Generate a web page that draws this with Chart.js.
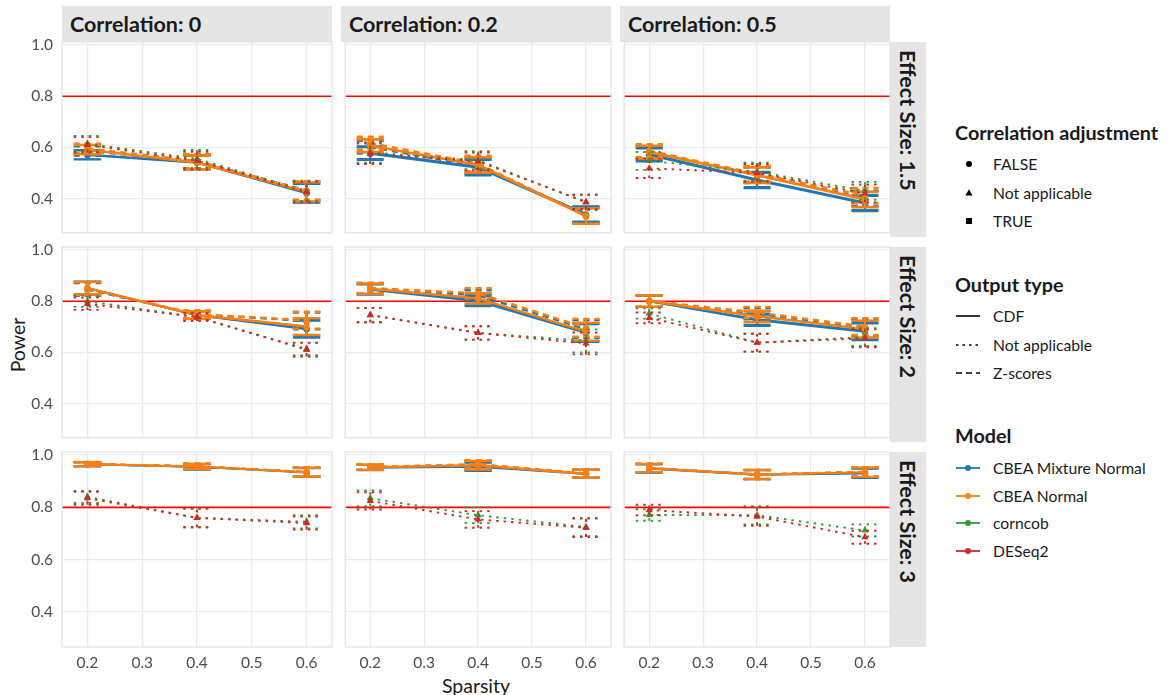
<!DOCTYPE html>
<html>
<head>
<meta charset="utf-8">
<script src="https://cdn.jsdelivr.net/npm/chart.js@4.4.1/dist/chart.umd.min.js"></script>
<style>
  html, body { margin: 0; padding: 0; background: #ffffff; }
  #fig { position: relative; width: 1171px; height: 695px; font-family: Lato, "Open Sans", sans-serif; color: #1a1a1a; overflow: hidden; }
  .strip-top { position: absolute; background: #e5e5e5; font-weight: bold; font-size: 21.5px; line-height: 36px; padding-left: 8px; box-sizing: border-box; white-space: nowrap; }
  .strip-right { position: absolute; background: #e5e5e5; font-weight: bold; font-size: 21.5px; writing-mode: vertical-rl; line-height: 36px; padding-top: 8px; box-sizing: border-box; white-space: nowrap; }
  .axis-title { position: absolute; font-size: 19.5px; white-space: nowrap; }
  .lg-title { position: absolute; left: 955px; font-weight: bold; font-size: 19.8px; transform: translateY(-50%); white-space: nowrap; }
  .lg-item { position: absolute; left: 993px; font-size: 15.7px; transform: translateY(-50%); white-space: nowrap; }
  .lg-key { position: absolute; left: 954px; width: 28px; height: 16px; transform: translateY(-50%); }
  canvas { position: absolute; }
</style>
</head>
<body>
<div id="fig"></div>
<script>
// Facet levels and axis ticks
const sparsity = [0.2, 0.4, 0.6];
const sparsityTicks = [0.2, 0.3, 0.4, 0.5, 0.6];
const powerTicks = [0.4, 0.6, 0.8, 1.0];
const correlationLevels = ['0', '0.2', '0.5'];
const effectSizes = ['1.5', '2', '3'];
const powerTarget = 0.8;

// Power per panel (rows: effect size 1.5, 2, 3; columns: correlation 0, 0.2, 0.5)
const mixCdfFalse = [
  [0.570, 0.540, 0.420], [0.575, 0.520, 0.335], [0.570, 0.470, 0.380],
  [0.850, 0.745, 0.690], [0.845, 0.800, 0.675], [0.800, 0.725, 0.680],
  [0.965, 0.955, 0.933], [0.952, 0.955, 0.928], [0.948, 0.925, 0.930]
];
const mixCdfTrue = [
  [0.572, 0.542, 0.422], [0.580, 0.525, 0.340], [0.575, 0.475, 0.385],
  [0.852, 0.745, 0.695], [0.848, 0.805, 0.680], [0.800, 0.730, 0.685],
  [0.965, 0.955, 0.935], [0.953, 0.957, 0.930], [0.950, 0.927, 0.932]
];
const mixZFalse = [
  [0.585, 0.545, 0.430], [0.600, 0.525, 0.335], [0.580, 0.490, 0.400],
  [0.845, 0.748, 0.722], [0.850, 0.822, 0.690], [0.800, 0.750, 0.695],
  [0.965, 0.957, 0.935], [0.953, 0.960, 0.929], [0.950, 0.925, 0.935]
];
const mixZTrue = [
  [0.587, 0.547, 0.432], [0.605, 0.530, 0.338], [0.582, 0.492, 0.402],
  [0.847, 0.748, 0.725], [0.852, 0.825, 0.692], [0.802, 0.752, 0.698],
  [0.966, 0.957, 0.936], [0.954, 0.962, 0.930], [0.951, 0.926, 0.936]
];
const normCdfFalse = [
  [0.590, 0.540, 0.425], [0.605, 0.530, 0.330], [0.580, 0.490, 0.395],
  [0.850, 0.745, 0.700], [0.848, 0.810, 0.680], [0.800, 0.740, 0.690],
  [0.965, 0.956, 0.934], [0.953, 0.960, 0.928], [0.950, 0.925, 0.934]
];
const normCdfTrue = [
  [0.592, 0.542, 0.427], [0.608, 0.533, 0.333], [0.583, 0.493, 0.398],
  [0.852, 0.747, 0.702], [0.850, 0.812, 0.682], [0.802, 0.742, 0.692],
  [0.966, 0.957, 0.935], [0.954, 0.962, 0.929], [0.951, 0.926, 0.935]
];
const normZFalse = [
  [0.595, 0.545, 0.430], [0.615, 0.535, 0.330], [0.585, 0.495, 0.410],
  [0.848, 0.748, 0.725], [0.850, 0.830, 0.695], [0.800, 0.755, 0.700],
  [0.966, 0.957, 0.935], [0.955, 0.965, 0.930], [0.951, 0.926, 0.936]
];
const normZTrue = [
  [0.597, 0.547, 0.432], [0.618, 0.538, 0.333], [0.588, 0.498, 0.412],
  [0.850, 0.750, 0.727], [0.852, 0.832, 0.697], [0.802, 0.757, 0.702],
  [0.967, 0.958, 0.936], [0.956, 0.966, 0.931], [0.952, 0.927, 0.937]
];
const corncob = [
  [0.615, 0.555, 0.430], [0.580, 0.550, 0.385], [0.547, 0.505, 0.430],
  [0.800, 0.738, 0.610], [0.746, 0.676, 0.645], [0.752, 0.638, 0.660],
  [0.840, 0.760, 0.745], [0.835, 0.770, 0.725], [0.771, 0.770, 0.712]
];
const deseq2 = [
  [0.610, 0.548, 0.425], [0.575, 0.545, 0.387], [0.518, 0.500, 0.420],
  [0.790, 0.738, 0.613], [0.746, 0.676, 0.635], [0.735, 0.638, 0.655],
  [0.835, 0.760, 0.740], [0.825, 0.754, 0.722], [0.790, 0.765, 0.686]
];

// Half-widths of the interval drawn around each estimate
const cbeaErr = [
  [0.018, 0.027, 0.037], [0.025, 0.030, 0.030], [0.025, 0.030, 0.030],
  [0.025, 0.015, 0.033], [0.020, 0.020, 0.035], [0.022, 0.022, 0.033],
  [0.008, 0.010, 0.017], [0.010, 0.016, 0.015], [0.016, 0.017, 0.018]
];
const corncobErr = [
  [0.030, 0.035, 0.040], [0.040, 0.035, 0.030], [0.035, 0.035, 0.035],
  [0.022, 0.015, 0.027], [0.028, 0.026, 0.045], [0.020, 0.035, 0.035],
  [0.023, 0.036, 0.025], [0.030, 0.030, 0.035], [0.022, 0.035, 0.023]
];
const deseq2Err = [
  [0.030, 0.035, 0.040], [0.040, 0.035, 0.028], [0.038, 0.035, 0.035],
  [0.024, 0.015, 0.025], [0.028, 0.026, 0.043], [0.021, 0.035, 0.035],
  [0.025, 0.036, 0.025], [0.033, 0.032, 0.035], [0.020, 0.035, 0.025]
];

const models = ['CBEA Mixture Normal', 'CBEA Normal', 'corncob', 'DESeq2'];
const outputTypes = ['CDF', 'Not applicable', 'Z-scores'];
const adjustments = ['FALSE', 'Not applicable', 'TRUE'];

// Styling
const modelColors = { 'CBEA Mixture Normal': '#1f77b4', 'CBEA Normal': '#ff7f0e', 'corncob': '#2ca02c', 'DESeq2': '#d62728' };
const outputDash = { 'CDF': [], 'Not applicable': [2.5, 5], 'Z-scores': [6, 5] };
const adjShape = { 'FALSE': 'circle', 'Not applicable': 'triangle', 'TRUE': 'rect' };

const series = [
  { model: 'CBEA Mixture Normal', output: 'CDF', adj: 'FALSE', values: mixCdfFalse, err: cbeaErr },
  { model: 'CBEA Mixture Normal', output: 'CDF', adj: 'TRUE', values: mixCdfTrue, err: cbeaErr },
  { model: 'CBEA Mixture Normal', output: 'Z-scores', adj: 'FALSE', values: mixZFalse, err: cbeaErr },
  { model: 'CBEA Mixture Normal', output: 'Z-scores', adj: 'TRUE', values: mixZTrue, err: cbeaErr },
  { model: 'CBEA Normal', output: 'CDF', adj: 'FALSE', values: normCdfFalse, err: cbeaErr },
  { model: 'CBEA Normal', output: 'CDF', adj: 'TRUE', values: normCdfTrue, err: cbeaErr },
  { model: 'CBEA Normal', output: 'Z-scores', adj: 'FALSE', values: normZFalse, err: cbeaErr },
  { model: 'CBEA Normal', output: 'Z-scores', adj: 'TRUE', values: normZTrue, err: cbeaErr },
  { model: 'corncob', output: 'Not applicable', adj: 'Not applicable', values: corncob, err: corncobErr },
  { model: 'DESeq2', output: 'Not applicable', adj: 'Not applicable', values: deseq2, err: deseq2Err }
];

// Panel geometry
const colLeft = [62, 341, 620];
const rowTop = [42, 247, 452];
const panelW = 270, panelH = 195;
const xMin = 0.1536, xMax = 0.6464;
const yMin = 0.266, yMax = 1.012;
const capHalfWidth = 0.025;
const lineW = 1.9;
const gridColor = '#ebebeb';
const tickFont = { family: 'Lato', size: 15.5 };
const tickColor = '#4d4d4d';

const fig = document.getElementById('fig');

function addDiv(cls, text, style) {
  const d = document.createElement('div');
  d.className = cls;
  d.textContent = text;
  Object.assign(d.style, style);
  fig.appendChild(d);
  return d;
}

// Facet strips
correlationLevels.forEach((c, i) => {
  addDiv('strip-top', 'Correlation: ' + c, { left: colLeft[i] + 'px', top: '6px', width: panelW + 'px', height: '36px' });
});
effectSizes.forEach((e, i) => {
  addDiv('strip-right', 'Effect Size: ' + e, { left: (colLeft[2] + panelW) + 'px', top: rowTop[i] + 'px', width: '36px', height: panelH + 'px' });
});

// Axis titles
addDiv('axis-title', 'Sparsity', { left: '476px', top: '685px', transform: 'translate(-50%, -50%)' });
addDiv('axis-title', 'Power', { left: '17px', top: '345px', transform: 'translate(-50%, -50%) rotate(-90deg)' });

// Interval bars drawn right after each dataset
const errorBarPlugin = {
  id: 'errorBars',
  afterDatasetDraw(chart, args) {
    const ds = chart.data.datasets[args.index];
    if (!ds.errors) return;
    const xs = chart.scales.x, ys = chart.scales.y, ctx = chart.ctx;
    ctx.save();
    ctx.strokeStyle = ds.borderColor;
    ctx.lineWidth = ds.borderWidth;
    ctx.setLineDash(ds.borderDash || []);
    ds.data.forEach((pt, i) => {
      const e = ds.errors[i];
      const px = xs.getPixelForValue(pt.x);
      const x0 = xs.getPixelForValue(pt.x - capHalfWidth);
      const x1 = xs.getPixelForValue(pt.x + capHalfWidth);
      const yl = ys.getPixelForValue(pt.y - e);
      const yh = ys.getPixelForValue(pt.y + e);
      ctx.beginPath();
      ctx.moveTo(px, yl); ctx.lineTo(px, yh);
      ctx.moveTo(x0, yl); ctx.lineTo(x1, yl);
      ctx.moveTo(x0, yh); ctx.lineTo(x1, yh);
      ctx.stroke();
    });
    ctx.restore();
  }
};

// Target power line and panel frame
const panelPlugin = {
  id: 'panelDecor',
  beforeDatasetsDraw(chart) {
    const a = chart.chartArea, ctx = chart.ctx;
    const y = chart.scales.y.getPixelForValue(powerTarget);
    ctx.save();
    ctx.strokeStyle = '#ff0000';
    ctx.lineWidth = 1.6;
    ctx.beginPath(); ctx.moveTo(a.left, y); ctx.lineTo(a.right, y); ctx.stroke();
    ctx.restore();
  },
  afterDraw(chart) {
    const a = chart.chartArea, ctx = chart.ctx;
    ctx.save();
    ctx.strokeStyle = '#e4e4e4';
    ctx.lineWidth = 1.3;
    ctx.strokeRect(a.left, a.top, a.right - a.left, a.bottom - a.top);
    ctx.restore();
  }
};

for (let r = 0; r < 3; r++) {
  for (let c = 0; c < 3; c++) {
    const p = r * 3 + c;
    const L = c === 0 ? 62 : 0, T = 10, R = 10, B = r === 2 ? 30 : 0;
    const canvas = document.createElement('canvas');
    canvas.width = panelW + L + R;
    canvas.height = panelH + T + B;
    canvas.style.left = (colLeft[c] - L) + 'px';
    canvas.style.top = (rowTop[r] - T) + 'px';
    canvas.style.width = canvas.width + 'px';
    canvas.style.height = canvas.height + 'px';
    fig.appendChild(canvas);

    const datasets = series.map((s, k) => ({
      label: s.model + ' / ' + s.output + ' / ' + s.adj,
      data: sparsity.map((x, i) => ({ x: x, y: s.values[p][i] })),
      errors: s.err[p],
      borderColor: modelColors[s.model],
      backgroundColor: modelColors[s.model],
      borderWidth: lineW,
      borderDash: outputDash[s.output],
      pointStyle: adjShape[s.adj],
      pointRadius: s.adj === 'Not applicable' ? 4.2 : 3.2,
      pointBackgroundColor: modelColors[s.model],
      pointBorderWidth: 0,
      tension: 0,
      fill: false,
      order: 100 - k
    }));

    new Chart(canvas, {
      type: 'line',
      data: { datasets },
      options: {
        responsive: false,
        animation: false,
        events: [],
        layout: { padding: { top: T, right: R, left: 0, bottom: 0 } },
        plugins: { legend: { display: false }, tooltip: { enabled: false } },
        scales: {
          x: {
            type: 'linear', position: 'bottom', min: xMin, max: xMax,
            afterBuildTicks: s => { s.ticks = sparsityTicks.map(v => ({ value: v })); },
            afterFit: s => { s.height = B; s.paddingLeft = 0; s.paddingRight = 0; },
            grid: { color: gridColor, lineWidth: 1.3, drawTicks: false },
            border: { display: false },
            ticks: { display: r === 2, padding: 7, font: tickFont, color: tickColor, maxRotation: 0, autoSkip: false, callback: v => v.toFixed(1) }
          },
          y: {
            type: 'linear', position: 'left', min: yMin, max: yMax,
            afterBuildTicks: s => { s.ticks = powerTicks.map(v => ({ value: v })); },
            afterFit: s => { s.width = L; s.paddingTop = 0; s.paddingBottom = 0; },
            grid: { color: gridColor, lineWidth: 1.3, drawTicks: false },
            border: { display: false },
            ticks: { display: c === 0, padding: 9, font: tickFont, color: tickColor, autoSkip: false, callback: v => v.toFixed(1) }
          }
        }
      },
      plugins: [panelPlugin, errorBarPlugin]
    });
  }
}

// Legends
function keySvg(inner) {
  return '<svg width="28" height="16" viewBox="0 0 28 16">' + inner + '</svg>';
}
function addKey(y, inner) {
  const d = document.createElement('div');
  d.className = 'lg-key';
  d.style.top = y + 'px';
  d.innerHTML = keySvg(inner);
  fig.appendChild(d);
}
const shapeKeys = {
  'FALSE': '<circle cx="15" cy="8" r="3" fill="#000"/>',
  'Not applicable': '<polygon points="15,4.2 18.6,10.4 11.4,10.4" fill="#000"/>',
  'TRUE': '<rect x="12" y="5" width="6" height="6" fill="#000"/>'
};
const dashKeys = { 'CDF': '', 'Not applicable': '2.5,4', 'Z-scores': '6,4' };

addDiv('lg-title', 'Correlation adjustment', { top: '132px' });
const adjY = [164, 193, 221];
adjustments.forEach((a, i) => {
  addKey(adjY[i], shapeKeys[a]);
  addDiv('lg-item', a, { top: adjY[i] + 'px' });
});

addDiv('lg-title', 'Output type', { top: '284px' });
const outY = [316, 345, 373];
outputTypes.forEach((o, i) => {
  addKey(outY[i], '<line x1="2" y1="8" x2="26" y2="8" stroke="#000" stroke-width="1.6"' + (dashKeys[o] ? ' stroke-dasharray="' + dashKeys[o] + '"' : '') + '/>');
  addDiv('lg-item', o, { top: outY[i] + 'px' });
});

addDiv('lg-title', 'Model', { top: '435px' });
const modY = [468, 496, 523, 551];
models.forEach((m, i) => {
  const col = modelColors[m];
  addKey(modY[i], '<line x1="2" y1="8" x2="26" y2="8" stroke="' + col + '" stroke-width="1.8"/><circle cx="14" cy="8" r="3" fill="' + col + '"/>');
  addDiv('lg-item', m, { top: modY[i] + 'px' });
});
</script>
</body>
</html>
